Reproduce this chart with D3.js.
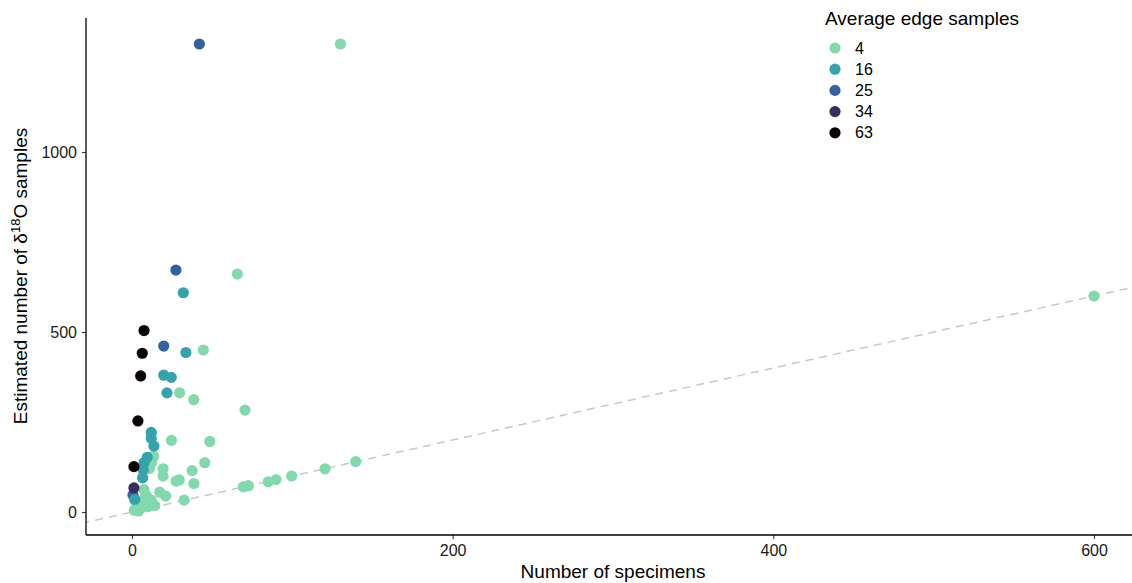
<!DOCTYPE html>
<html><head><meta charset="utf-8">
<script src="https://cdn.jsdelivr.net/npm/d3@7"></script>
<style>body{margin:0;background:#fff;} text{font-family:"Liberation Sans",Arial,sans-serif;}</style>
</head><body>
<svg id="c" width="1132" height="583"></svg>
<script>
// Data
const specimens = [130,600,65.7,44.5,29.7,38.5,70.5,24.6,48.5,45.4,37.5,38.6,27.5,29.5,19.4,19.4,12,13.5,10.8,12.2,7.5,17.3,21,32.5,14.2,12,9,10,7,3.7,1.5,69.4,72.6,85,89.8,99.6,120.4,139.5,5,8,4,11,3,6,9,
  0.6,
  32,33.6,19.8,24.5,21.8,12,12,13.7,9.5,7.5,7,6.6,1.7,
  42,27.4,19.8,
  1.2,
  7.5,6.4,5.4,3.7,1.2];
const samples = [1300,600,661,450,331,312,283,199,196,137,115,79,86,89,120,100,146,155,121,137,62,55,44,33,18,33,29,15,19,10,5,70,73,84,90,100,120,140,25,40,3,22,20,12,45,
  47,
  609,443,380,374,331,221,205,183,152,137,117,95,35,
  1300,672,461,
  67,
  504,441,378,253,126];
const edge = [4,4,4,4,4,4,4,4,4,4,4,4,4,4,4,4,4,4,4,4,4,4,4,4,4,4,4,4,4,4,4,4,4,4,4,4,4,4,4,4,4,4,4,4,4,
  25,
  16,16,16,16,16,16,16,16,16,16,16,16,16,
  25,25,25,
  34,
  63,63,63,63,63];
const edgeLevels = [4,16,25,34,63];
const edgeColors = ["#83d8ae","#36a2ab","#34629f","#3a2c5c","#0b0405"];
const xTicks = [0,200,400,600];
const yTicks = [0,500,1000];

const svg = d3.select("#c");
const panel = {left:86, right:1140, top:18, bottom:535};
const x = d3.scaleLinear().domain([0,600]).range([132,1094]);
const y = d3.scaleLinear().domain([0,1000]).range([512,152]);
const color = d3.scaleOrdinal().domain(edgeLevels).range(edgeColors);

svg.append("defs").append("clipPath").attr("id","clip")
  .append("rect").attr("x",panel.left).attr("y",panel.top)
  .attr("width",panel.right-panel.left).attr("height",panel.bottom-panel.top);

// 1:1 dashed line
const lineExt = [-40, 700];
svg.append("line").attr("clip-path","url(#clip)")
  .attr("x1",x(lineExt[0])).attr("y1",y(lineExt[0]))
  .attr("x2",x(lineExt[1])).attr("y2",y(lineExt[1]))
  .attr("stroke","#c8c8c8").attr("stroke-width",1.5).attr("stroke-dasharray","8,6");

// points
const pts = specimens.map((s,i)=>({s, n:samples[i], e:edge[i]}));
svg.append("g").attr("clip-path","url(#clip)").selectAll("circle").data(pts).enter()
  .append("circle").attr("cx",d=>x(d.s)).attr("cy",d=>y(d.n)).attr("r",5.6)
  .attr("fill",d=>color(d.e));

// axes
const fmt = d3.format("d");
const xAxis = svg.append("g").attr("transform",`translate(0,${panel.bottom})`)
  .call(d3.axisBottom(x).tickValues(xTicks).tickFormat(fmt).tickSize(4).tickPadding(6).tickSizeOuter(0));
const yAxis = svg.append("g").attr("transform",`translate(${panel.left},0)`)
  .call(d3.axisLeft(y).tickValues(yTicks).tickFormat(fmt).tickSize(4).tickPadding(5).tickSizeOuter(0));
[xAxis,yAxis].forEach(a=>{
  a.select(".domain").remove();
  a.selectAll("line").attr("stroke","#333").attr("stroke-width",1.1);
  a.selectAll("text").attr("font-size","16px").attr("fill","#1a1a1a")
   .attr("font-family","'Liberation Sans',Arial,sans-serif");
});
svg.append("line").attr("x1",panel.left).attr("x2",1132).attr("y1",panel.bottom).attr("y2",panel.bottom)
  .attr("stroke","#000").attr("stroke-width",1.3);
svg.append("line").attr("x1",panel.left).attr("x2",panel.left).attr("y1",panel.top).attr("y2",panel.bottom)
  .attr("stroke","#000").attr("stroke-width",1.3);

// axis titles
svg.append("text").attr("x",613).attr("y",578).attr("text-anchor","middle")
  .attr("font-size","19px").attr("fill","#000").text("Number of specimens");
const yt = svg.append("text").attr("transform","translate(27,276) rotate(-90)")
  .attr("text-anchor","middle").attr("font-size","19px").attr("fill","#000");
yt.append("tspan").text("Estimated number of δ");
yt.append("tspan").attr("font-size","13px").attr("dy","-7").text("18");
yt.append("tspan").attr("dy","7").text("O samples");

// legend
const lg = svg.append("g");
lg.append("text").attr("x",825).attr("y",25).attr("font-size","19px").attr("fill","#000").text("Average edge samples");
edgeLevels.forEach((v,i)=>{
  const cy = 48 + i*21.2;
  lg.append("circle").attr("cx",835).attr("cy",cy).attr("r",5.6).attr("fill",color(v));
  lg.append("text").attr("x",855).attr("y",cy+5.5).attr("font-size","16px").attr("fill","#000").text(v);
});
</script>
</body></html>
